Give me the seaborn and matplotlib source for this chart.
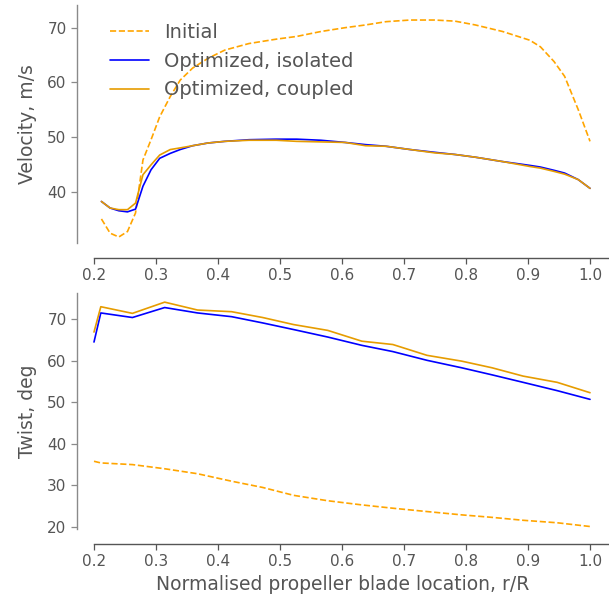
import numpy as np
import pandas as pd
import seaborn as sns
import matplotlib.pyplot as plt

# Velocidade ao longo da pá (r/R)
r_vel = [0.212, 0.226, 0.240, 0.254, 0.267, 0.279, 0.292, 0.306, 0.323, 0.339,
         0.359, 0.384, 0.411, 0.450, 0.494, 0.527, 0.566, 0.605, 0.638, 0.671,
         0.710, 0.749, 0.782, 0.815, 0.859, 0.903, 0.920, 0.942, 0.959, 0.981, 1.0]
vel_initial = [35.0, 32.4, 31.7, 32.7, 36.1, 45.8, 49.5, 53.7, 57.4, 60.4,
               62.6, 64.4, 65.9, 67.1, 67.9, 68.4, 69.3, 70.0, 70.5, 71.1,
               71.4, 71.4, 71.2, 70.5, 69.3, 67.7, 66.5, 63.8, 61.1, 55.0, 49.2]
vel_isolated = [38.2, 37.0, 36.5, 36.3, 36.8, 41.0, 44.0, 46.1, 47.0, 47.7,
                48.4, 48.9, 49.2, 49.5, 49.6, 49.6, 49.4, 49.0, 48.6, 48.3,
                47.7, 47.2, 46.8, 46.3, 45.5, 44.8, 44.5, 43.9, 43.4, 42.2, 40.6]
vel_coupled = [38.2, 37.0, 36.7, 36.7, 37.9, 43.1, 44.9, 46.7, 47.7, 48.0,
               48.4, 48.9, 49.2, 49.4, 49.4, 49.2, 49.1, 49.0, 48.4, 48.3,
               47.7, 47.1, 46.8, 46.3, 45.5, 44.6, 44.3, 43.7, 43.2, 42.2, 40.6]

# Torção ao longo da pá
r_twist = [0.2, 0.211, 0.262, 0.314, 0.367, 0.422, 0.472, 0.522, 0.577, 0.632,
           0.682, 0.737, 0.793, 0.842, 0.892, 0.947, 1.0]
twist_initial = [35.8, 35.4, 35.0, 34.0, 32.8, 31.0, 29.5, 27.6, 26.3, 25.3,
                 24.5, 23.7, 22.9, 22.3, 21.6, 21.0, 20.1]
twist_isolated = [64.5, 71.5, 70.4, 72.8, 71.5, 70.6, 69.1, 67.5, 65.7, 63.7,
                  62.2, 60.1, 58.3, 56.6, 54.8, 52.8, 50.7]
twist_coupled = [66.9, 73.0, 71.4, 74.1, 72.2, 71.8, 70.4, 68.7, 67.3, 64.7,
                 63.9, 61.3, 59.9, 58.3, 56.3, 54.8, 52.3]

series = ['Initial', 'Optimized, isolated', 'Optimized, coupled']
cores = {'Initial': '#FFA500', 'Optimized, isolated': '#0000FF',
         'Optimized, coupled': '#E69C00'}
estilos = {'Initial': '--', 'Optimized, isolated': '-', 'Optimized, coupled': '-'}

df_vel = pd.concat([
    pd.DataFrame({'r': r_vel, 'valor': v, 'serie': s})
    for s, v in zip(series, [vel_initial, vel_isolated, vel_coupled])])
df_twist = pd.concat([
    pd.DataFrame({'r': r_twist, 'valor': v, 'serie': s})
    for s, v in zip(series, [twist_initial, twist_isolated, twist_coupled])])

sns.set_theme(style='ticks')
cinza = '#555555'
plt.rcParams.update({'text.color': cinza, 'axes.labelcolor': cinza,
                     'xtick.color': cinza, 'ytick.color': cinza,
                     'axes.edgecolor': cinza, 'font.family': ['DejaVu Sans']})

fig = plt.figure(figsize=(6.09, 6.0), dpi=100)
ax1 = fig.add_axes([77 / 609, 1 - 243 / 600, 532 / 609, 238 / 600])
ax2 = fig.add_axes([77 / 609, 1 - 529 / 600, 532 / 609, 236 / 600])

xmin, xmax = 0.1726, 1.0306
for ax, df in [(ax1, df_vel), (ax2, df_twist)]:
    for s in series:
        sub = df[df['serie'] == s]
        sns.lineplot(data=sub, x='r', y='valor', ax=ax, color=cores[s],
                     linestyle=estilos[s], linewidth=1.2, label=s)
    ax.set_xlim(xmin, xmax)
    ax.set_xticks(np.arange(0.2, 1.01, 0.1))
    ax.tick_params(labelsize=11, length=4, width=0.9)
    ax.tick_params(axis='y', color='#8a8a8a', labelcolor=cinza)
    sns.despine(ax=ax)
    for sp in ax.spines.values():
        sp.set_linewidth(1.0)
    ax.spines['left'].set_color('#8a8a8a')
    # eixo x deslocado para baixo, começando em 0.2
    ax.spines['bottom'].set_position(('outward', 10.5))
    ax.spines['bottom'].set_bounds(0.2, xmax)

ax1.set_ylim(30.6, 74.15)
ax1.set_yticks([40, 50, 60, 70])
ax2.set_ylim(19.5, 76.3)
ax2.set_yticks([20, 30, 40, 50, 60, 70])

ax1.set_xlabel('')
ax1.set_ylabel('Velocity, m/s', fontsize=13.5, labelpad=7)
ax2.set_ylabel('Twist, deg', fontsize=13.5, labelpad=7)
ax2.set_xlabel('Normalised propeller blade location, r/R', fontsize=13.5)
ax1.legend(loc='upper left', bbox_to_anchor=(0.029, 0.998), frameon=False,
           fontsize=14)
ax2.get_legend().remove()

fig.savefig('out.png', dpi=100)
